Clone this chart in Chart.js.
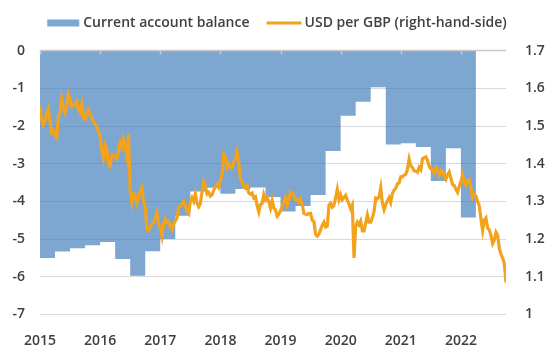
<!DOCTYPE html>
<html>
<head>
<meta charset="utf-8">
<script src="https://cdn.jsdelivr.net/npm/chart.js@4.4.0/dist/chart.umd.min.js"></script>
<style>
  html, body { margin: 0; padding: 0; background: #fff; }
  #wrap { width: 550px; height: 351px; }
</style>
</head>
<body>
<div id="wrap"><canvas id="chart"></canvas></div>
<script>
// Current account balance (% of GDP), one value per quarter
const caQuarters = [
  '2015Q1', '2015Q2', '2015Q3', '2015Q4', '2016Q1', '2016Q2', '2016Q3', '2016Q4',
  '2017Q1', '2017Q2', '2017Q3', '2017Q4', '2018Q1', '2018Q2', '2018Q3', '2018Q4',
  '2019Q1', '2019Q2', '2019Q3', '2019Q4', '2020Q1', '2020Q2', '2020Q3', '2020Q4',
  '2021Q1', '2021Q2', '2021Q3', '2021Q4', '2022Q1'
];
const caValues = [
  -5.50, -5.33, -5.24, -5.16, -5.08, -5.53, -5.97, -5.32,
  -5.00, -4.38, -3.74, -3.64, -3.80, -3.67, -3.63, -3.88,
  -4.27, -4.12, -3.83, -2.66, -1.73, -1.36, -0.97, -2.49,
  -2.46, -2.56, -3.46, -2.59, -4.43
];

// USD per GBP, three readings a month (1st, 11th, 21st) from Jan 2015
const fxStart = 2015;
const fxPerYear = 36;
const fx2015 = [1.553, 1.517, 1.503, 1.515, 1.531, 1.545, 1.512, 1.482, 1.488, 1.475, 1.468, 1.525,
                1.535, 1.572, 1.548, 1.535, 1.553, 1.585, 1.572, 1.552, 1.557, 1.555, 1.566, 1.545,
                1.537, 1.558, 1.523, 1.518, 1.535, 1.543, 1.530, 1.523, 1.512, 1.505, 1.498, 1.485];
const fx2016 = [1.474, 1.436, 1.415, 1.448, 1.438, 1.395, 1.392, 1.423, 1.423, 1.420, 1.414, 1.435,
                1.456, 1.444, 1.465, 1.446, 1.420, 1.478, 1.328, 1.297, 1.320, 1.318, 1.295, 1.310,
                1.327, 1.336, 1.300, 1.285, 1.225, 1.222, 1.232, 1.240, 1.243, 1.255, 1.270, 1.242];
const fx2017 = [1.230, 1.208, 1.240, 1.254, 1.245, 1.248, 1.232, 1.225, 1.240, 1.248, 1.255, 1.284,
                1.287, 1.293, 1.300, 1.288, 1.275, 1.268, 1.300, 1.310, 1.300, 1.320, 1.295, 1.286,
                1.294, 1.325, 1.352, 1.340, 1.320, 1.324, 1.314, 1.317, 1.330, 1.338, 1.345, 1.337];
const fx2018 = [1.355, 1.373, 1.425, 1.418, 1.390, 1.398, 1.388, 1.390, 1.405, 1.411, 1.432, 1.404,
                1.358, 1.352, 1.339, 1.335, 1.342, 1.322, 1.319, 1.322, 1.309, 1.312, 1.289, 1.272,
                1.292, 1.295, 1.318, 1.304, 1.311, 1.298, 1.282, 1.303, 1.282, 1.278, 1.261, 1.266];
const fx2019 = [1.276, 1.285, 1.300, 1.310, 1.290, 1.302, 1.325, 1.323, 1.316, 1.304, 1.306, 1.298,
                1.306, 1.293, 1.268, 1.266, 1.265, 1.268, 1.268, 1.250, 1.247, 1.213, 1.208, 1.213,
                1.225, 1.237, 1.245, 1.232, 1.234, 1.290, 1.295, 1.285, 1.290, 1.310, 1.332, 1.305];
const fx2020 = [1.318, 1.304, 1.310, 1.316, 1.303, 1.293, 1.280, 1.290, 1.150, 1.233, 1.245, 1.238,
                1.248, 1.222, 1.222, 1.243, 1.264, 1.245, 1.245, 1.257, 1.273, 1.309, 1.307, 1.311,
                1.336, 1.296, 1.278, 1.292, 1.301, 1.310, 1.297, 1.321, 1.330, 1.335, 1.347, 1.349];
const fx2021 = [1.365, 1.365, 1.370, 1.372, 1.385, 1.412, 1.394, 1.390, 1.381, 1.380, 1.377, 1.390,
                1.384, 1.413, 1.416, 1.418, 1.409, 1.393, 1.386, 1.384, 1.376, 1.390, 1.382, 1.370,
                1.383, 1.382, 1.366, 1.358, 1.370, 1.378, 1.361, 1.345, 1.342, 1.332, 1.324, 1.340];
const fx2022 = [1.352, 1.370, 1.350, 1.343, 1.355, 1.357, 1.336, 1.310, 1.318, 1.314, 1.300, 1.288,
                1.254, 1.223, 1.250, 1.256, 1.229, 1.225, 1.210, 1.188, 1.197, 1.218, 1.210, 1.175,
                1.160, 1.150, 1.135, 1.085];
const fxValues = [].concat(fx2015, fx2016, fx2017, fx2018, fx2019, fx2020, fx2021, fx2022);

const yearLabels = ['2015', '2016', '2017', '2018', '2019', '2020', '2021', '2022'];
const leftTicks = ['0', '-1', '-2', '-3', '-4', '-5', '-6', '-7'];
const rightTicks = ['1', '1.1', '1.2', '1.3', '1.4', '1.5', '1.6', '1.7'];

const caColor = 'rgba(55, 118, 185, 0.65)';
const fxColor = '#F2A31B';
const textColor = '#404040';
const fontFamily = "'Open Sans', 'DejaVu Sans', sans-serif";
const axisFont = { family: fontFamily, size: 14, weight: '600' };

// quarter label -> decimal year of the quarter start
const quarterX = q => Number(q.slice(0, 4)) + (Number(q.slice(5)) - 1) / 4;

const caPoints = caQuarters.map((q, i) => ({ x: quarterX(q), y: caValues[i] }));
// close the last quarter so its step has a width
caPoints.push({ x: quarterX(caQuarters[caQuarters.length - 1]) + 0.25, y: caValues[caValues.length - 1] });

const fxPoints = fxValues.map((v, i) => ({ x: fxStart + i / fxPerYear, y: v }));
const xMax = fxStart + (fxValues.length - 1) / fxPerYear;

// top axis line with tick marks, plus the legend row
const topAxisAndLegend = {
  id: 'topAxisAndLegend',
  afterDatasetsDraw(chart) {
    const { ctx, chartArea, scales } = chart;
    ctx.save();
    ctx.strokeStyle = '#C9C9C9';
    ctx.lineWidth = 1.5;
    ctx.beginPath();
    ctx.moveTo(chartArea.left, chartArea.top);
    ctx.lineTo(chartArea.right, chartArea.top);
    scales.x.ticks.forEach(t => {
      const px = Math.round(scales.x.getPixelForValue(t.value)) + 0.5;
      ctx.moveTo(px, chartArea.top);
      ctx.lineTo(px, chartArea.top + 4);
    });
    ctx.stroke();
    ctx.restore();
  },
  afterDraw(chart) {
    const ctx = chart.ctx;
    const items = chart.data.datasets.slice().reverse();
    ctx.save();
    ctx.font = `600 14px ${fontFamily}`;
    ctx.textBaseline = 'middle';
    const swatchW = [32, 35];
    const gapAfter = [4, 3];
    const itemGap = 17;
    const widths = items.map((d, i) => swatchW[i] + gapAfter[i] + ctx.measureText(d.label).width);
    const total = widths[0] + widths[1] + itemGap;
    let x = 277 - total / 2;
    const y = 23;
    items.forEach((d, i) => {
      if (i === 0) {
        ctx.fillStyle = caColor;
        ctx.fillRect(x, y - 3.5, swatchW[i], 7);
      } else {
        ctx.strokeStyle = fxColor;
        ctx.lineWidth = 3;
        ctx.beginPath();
        ctx.moveTo(x, y);
        ctx.lineTo(x + swatchW[i], y);
        ctx.stroke();
      }
      ctx.fillStyle = textColor;
      ctx.fillText(d.label, x + swatchW[i] + gapAfter[i], y);
      x += widths[i] + itemGap;
    });
    ctx.restore();
  }
};

const ctx = document.getElementById('chart').getContext('2d');
new Chart(ctx, {
  type: 'line',
  data: {
    datasets: [
      {
        label: 'USD per GBP (right-hand-side)',
        data: fxPoints,
        yAxisID: 'yRight',
        borderColor: fxColor,
        borderWidth: 3.2,
        pointRadius: 0,
        tension: 0,
        fill: false,
        order: 0
      },
      {
        label: 'Current account balance',
        data: caPoints,
        yAxisID: 'yLeft',
        stepped: 'before',
        fill: 'origin',
        backgroundColor: caColor,
        borderColor: 'rgba(0,0,0,0)',
        borderWidth: 0,
        pointRadius: 0,
        order: 1
      }
    ]
  },
  options: {
    responsive: true,
    maintainAspectRatio: false,
    animation: false,
    layout: { padding: { top: 50.6, left: 0, right: 0, bottom: 0 } },
    plugins: {
      legend: { display: false },
      tooltip: { enabled: false }
    },
    scales: {
      x: {
        type: 'linear',
        min: fxStart,
        max: xMax,
        grid: { display: false },
        border: { display: false },
        afterBuildTicks: s => { s.ticks = yearLabels.map(y => ({ value: Number(y) })); },
        ticks: {
          callback: (v, i) => yearLabels[i],
          font: axisFont,
          color: textColor,
          padding: 10,
          maxRotation: 0,
          autoSkip: false
        },
        afterFit: s => { s.height = 36.5; }
      },
      yLeft: {
        position: 'left',
        min: -7,
        max: 0,
        afterBuildTicks: s => { s.ticks = leftTicks.map(v => ({ value: Number(v) })); },
        grid: { color: '#D9D9D9', lineWidth: 1, drawTicks: false },
        border: { display: false },
        ticks: { callback: (v, i) => leftTicks[i], font: axisFont, color: textColor, padding: 15 },
        afterFit: s => { s.width = 40; }
      },
      yRight: {
        position: 'right',
        min: 1,
        max: 1.7,
        afterBuildTicks: s => { s.ticks = rightTicks.map(v => ({ value: Number(v) })); },
        grid: { display: false, drawTicks: false },
        border: { display: false },
        ticks: { callback: (v, i) => rightTicks[i], font: axisFont, color: textColor, padding: 19 },
        afterFit: s => { s.width = 44; }
      }
    }
  },
  plugins: [topAxisAndLegend]
});
</script>
</body>
</html>
